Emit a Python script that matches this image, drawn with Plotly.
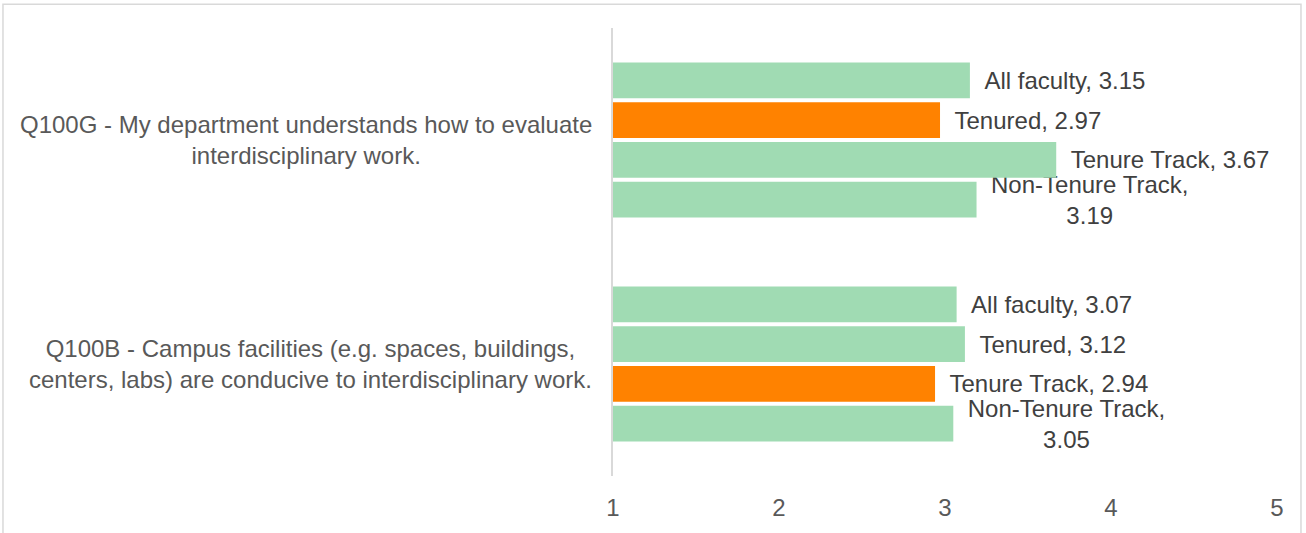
import plotly.graph_objects as go

categories = ["Q100B", "Q100G"]
category_labels = [
    "Q100B - Campus facilities (e.g. spaces, buildings,<br>centers, labs) are conducive to interdisciplinary work.",
    "Q100G - My department understands how to evaluate<br>interdisciplinary work.",
]
series_names = ["All faculty", "Tenured", "Tenure Track", "Non-Tenure Track"]
values = {
    "All faculty": [3.07, 3.15],
    "Tenured": [3.12, 2.97],
    "Tenure Track": [2.94, 3.67],
    "Non-Tenure Track": [3.05, 3.19],
}
highlight = {
    "All faculty": [False, False],
    "Tenured": [False, True],
    "Tenure Track": [True, False],
    "Non-Tenure Track": [False, False],
}
x_ticks = [1, 2, 3, 4, 5]

GREEN = "#A0DBB3"
ORANGE = "#FF8200"
PAD = "\u00a0\u2009"

fig = go.Figure()
for name in reversed(series_names):
    vals = values[name]
    if name == "Non-Tenure Track":
        texts = [f"{PAD}Non-Tenure Track,<br>{PAD}{v:.2f}" for v in vals]
    else:
        texts = [f"{PAD}{name}, {v:.2f}" for v in vals]
    fig.add_trace(go.Bar(
        y=categories, x=vals, base=0, orientation="h", name=name,
        marker=dict(color=[ORANGE if h else GREEN for h in highlight[name]], line=dict(width=0)),
        text=texts, textposition="outside", cliponaxis=False, constraintext="none",
        textfont=dict(family="Liberation Sans, Arial", size=24, color="#404040"),
        hoverinfo="skip",
    ))

for cat, lab in zip(categories, category_labels):
    fig.add_annotation(
        x=-0.0286, xref="paper", y=cat, yref="y", text=lab, showarrow=False,
        xanchor="right", yanchor="middle", align="center",
        font=dict(family="Liberation Sans, Arial", size=24, color="#595959"),
    )

fig.add_shape(type="rect", xref="paper", yref="paper",
              x0=-0.9187, x1=1.0361, y0=-0.14, y1=1.0531,
              line=dict(color="#D9D9D9", width=1.5), fillcolor="rgba(0,0,0,0)")

fig.update_layout(
    width=1306, height=533,
    margin=dict(l=613, r=29, t=28, b=53),
    barmode="group", bargap=0.29, bargroupgap=0.1,
    showlegend=False,
    plot_bgcolor="white", paper_bgcolor="white",
    font=dict(family="Liberation Sans, Arial", color="#595959"),
    xaxis=dict(range=[1, 5], tickvals=x_ticks, showgrid=False, zeroline=False,
               showline=False, ticklabelstandoff=15,
               tickfont=dict(size=24, color="#595959")),
    yaxis=dict(showticklabels=False, showgrid=False, zeroline=False,
               showline=True, linecolor="#D9D9D9", linewidth=1.5),
)

fig.write_html("out.html", config={"displayModeBar": False},
               post_script="document.body.style.margin='0';document.body.style.overflow='hidden';")
